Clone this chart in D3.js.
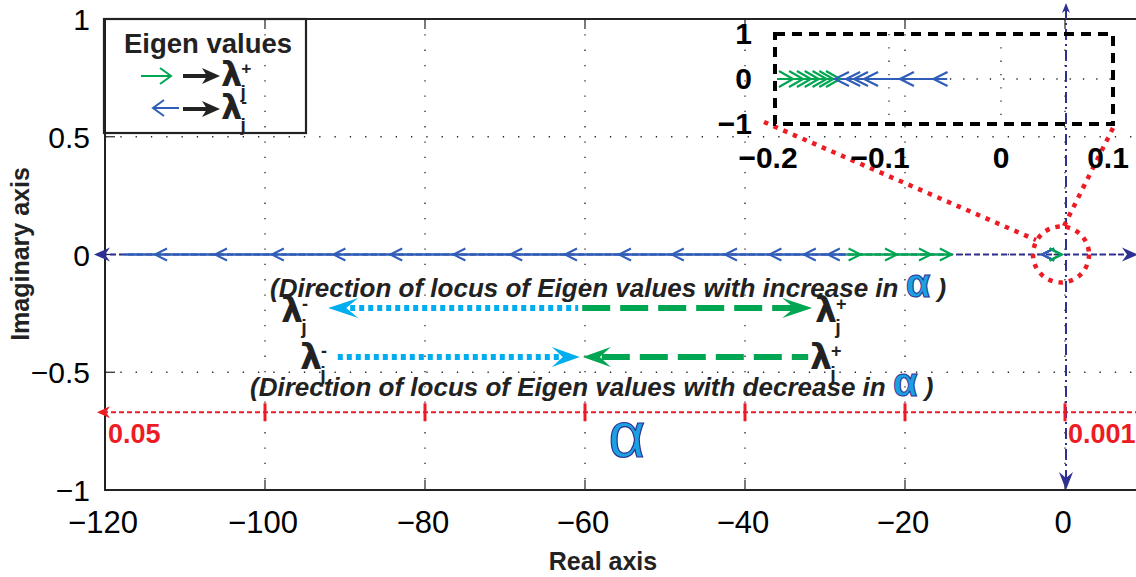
<!DOCTYPE html>
<html>
<head>
<meta charset="utf-8">
<script src="https://cdn.jsdelivr.net/npm/d3@7"></script>
<style>
  body { margin: 0; background: #fff; }
  svg { display: block; font-family: "Liberation Sans", Arial, sans-serif; }
</style>
</head>
<body>
<svg id="chart" width="1136" height="577"></svg>
<script>
// ticks
const xTicks = [-120, -100, -80, -60, -40, -20, 0];
const yTicks = [-1, -0.5, 0, 0.5, 1];

// eigenvalue locus on the real axis (main plot)
const blueRe = [-113, -105.5, -98.4, -90.7, -83.6, -75.7, -68.6, -61.75, -55, -48.4, -41.75, -36.2, -31.9, -28.9];
const blueSpan = [-117.6, -27.3];
const greenRe = [-26.3, -21.75, -17.5, -14.9];
const greenSpan = [-27.3, -14.4];

// zoomed inset near the origin
const insetXTicks = [-0.2, -0.1, 0, 0.1];
const insetYTicks = [-1, 0, 1];
const insetGreenRe = [-0.192, -0.183, -0.176, -0.169, -0.162, -0.156, -0.15];
const insetGreenSpan = [-0.2, -0.148];
const insetBlueRe = [-0.142, -0.132, -0.125, -0.116, -0.084, -0.054];
const insetBlueSpan = [-0.148, -0.048];

// alpha axis drawn in red
const alphaY = -0.67;
const alphaTicks = [-100, -80, -60, -40, -20, 0];
const alphaEnds = [{ x: -120, label: "0.05" }, { x: 0, label: "0.001" }];

// direction arrows (real-axis units / imaginary-axis units)
const rowUpY = -0.227, rowDownY = -0.435;
const rowUp = { cyanTip: -92.1, mid: -60.6, greenTip: -31.6 };
const rowDown = { cyanStart: -90.9, mid: -60.4, greenEnd: -32.1 };

const navy = "#2e3192", blue = "#2f5db8", green = "#00a651", cyan = "#00aeef", red = "#ed1c24";

const svg = d3.select("#chart");
const x = d3.scaleLinear().domain([-120, 0]).range([105, 1065]);
const y = d3.scaleLinear().domain([-1, 1]).range([490, 19]);
const xRight = 1140;

// grid
const grid = svg.append("g").attr("stroke", "#222").attr("stroke-width", 1.3).attr("stroke-dasharray", "1.3,14");
grid.selectAll(".gx").data(xTicks.slice(1)).enter().append("line")
  .attr("x1", d => x(d)).attr("x2", d => x(d)).attr("y1", y(1)).attr("y2", y(-1));
grid.selectAll(".gy").data(yTicks.slice(1, -1)).enter().append("line")
  .attr("x1", x(-120)).attr("x2", xRight).attr("y1", d => y(d)).attr("y2", d => y(d));

// frame + ticks
const frame = svg.append("g").attr("stroke", "#222").attr("stroke-width", 2).attr("fill", "none");
frame.append("path").attr("d", `M${xRight},${y(1)}H${x(-120)}V${y(-1)}H${xRight}`);
xTicks.forEach(t => {
  frame.append("line").attr("x1", x(t)).attr("x2", x(t)).attr("y1", y(-1)).attr("y2", y(-1) - 10).attr("stroke-width", 1.2);
  frame.append("line").attr("x1", x(t)).attr("x2", x(t)).attr("y1", y(1)).attr("y2", y(1) + 10).attr("stroke-width", 1.2);
});
yTicks.forEach(t => {
  frame.append("line").attr("x1", x(-120)).attr("x2", x(-120) + 10).attr("y1", y(t)).attr("y2", y(t)).attr("stroke-width", 1.2);
});

svg.append("g").selectAll("text").data(xTicks).enter().append("text")
  .attr("x", d => x(d) - 2).attr("y", 533).attr("text-anchor", "middle")
  .attr("font-size", 31).text(d => d3.format("d")(d).replace("-", "\u2212"));
svg.append("g").selectAll("text").data(yTicks).enter().append("text")
  .attr("x", 90).attr("y", d => y(d) + 11).attr("text-anchor", "end")
  .attr("font-size", 30).text(d => String(d).replace("-", "\u2212"));

svg.append("text").attr("x", 603).attr("y", 570).attr("text-anchor", "middle")
  .attr("font-size", 25).attr("font-weight", "bold").attr("fill", "#222").text("Real axis");
svg.append("text").attr("transform", "translate(29,254) rotate(-90)").attr("text-anchor", "middle")
  .attr("font-size", 25).attr("font-weight", "bold").attr("fill", "#222").text("Imaginary axis");

// barbed arrow head, pointing in direction ang (radians), tip at (tx,ty)
function head(g, tx, ty, ang, len, half, notch, color) {
  const c = Math.cos(ang), s = Math.sin(ang);
  const p = (a, b) => [tx - a * c - b * s, ty - a * s + b * c];
  const pts = [p(0, 0), p(len, -half), p(len - notch, 0), p(len, half)];
  g.append("path").attr("d", "M" + pts.map(q => q.join(",")).join("L") + "Z").attr("fill", color);
}

// navy coordinate axes through the origin
svg.append("line").attr("x1", x(-120) - 4).attr("x2", 1132).attr("y1", y(0)).attr("y2", y(0))
  .attr("stroke", navy).attr("stroke-width", 2).attr("stroke-dasharray", "6,3");
head(svg, 94, y(0), Math.PI, 16, 7, 5, navy);
head(svg, 1138, y(0), 0, 16, 7, 5, navy);
svg.append("line").attr("x1", x(0) + 1).attr("x2", x(0) + 1).attr("y1", 8).attr("y2", 484)
  .attr("stroke", navy).attr("stroke-width", 2).attr("stroke-dasharray", "11,4,2,4");
head(svg, x(0) + 1, 490, Math.PI / 2, 18, 7, 6, navy);
head(svg, x(0) + 1, 3, -Math.PI / 2, 10, 4, 3, navy);

// locus lines and chevron markers
function chevron(g, cx, cy, dir, w, h, color, sw) {
  g.append("path").attr("d", `M${cx - dir * w},${cy - h}L${cx + dir * w},${cy}L${cx - dir * w},${cy + h}`)
    .attr("fill", "none").attr("stroke", color).attr("stroke-width", sw);
}
const locus = svg.append("g");
locus.append("line").attr("x1", x(blueSpan[0])).attr("x2", x(blueSpan[1])).attr("y1", y(0)).attr("y2", y(0))
  .attr("stroke", blue).attr("stroke-width", 2.6);
locus.append("line").attr("x1", x(greenSpan[0])).attr("x2", x(greenSpan[1])).attr("y1", y(0)).attr("y2", y(0))
  .attr("stroke", green).attr("stroke-width", 2.6);
blueRe.forEach(v => chevron(locus, x(v), y(0), -1, 6, 6, blue, 2));
greenRe.forEach(v => chevron(locus, x(v), y(0), 1, 6, 6, green, 2));
// the same inset values at the main scale
insetBlueRe.filter((v, i) => i % 2 === 0).forEach(v => chevron(locus, x(v) - 16, y(0), -1, 6, 6, blue, 2));
insetGreenRe.filter((v, i) => i % 3 === 0).forEach(v => chevron(locus, x(v) - 8, y(0), 1, 6, 6, green, 2));

// red alpha axis
const al = svg.append("g");
al.append("line").attr("x1", x(-120) - 2).attr("x2", xRight).attr("y1", y(alphaY)).attr("y2", y(alphaY))
  .attr("stroke", red).attr("stroke-width", 2).attr("stroke-dasharray", "5,3");
head(al, 97, y(alphaY), Math.PI, 13, 6, 4, red);
al.selectAll(".t").data(alphaTicks).enter().append("line")
  .attr("x1", d => x(d)).attr("x2", d => x(d)).attr("y1", y(alphaY) - 9).attr("y2", y(alphaY) + 9)
  .attr("stroke", red).attr("stroke-width", 3);
al.selectAll(".l").data(alphaEnds).enter().append("text")
  .attr("x", d => x(d.x) + 3).attr("y", y(alphaY) + 31).attr("font-size", 27).attr("font-weight", "bold")
  .attr("fill", red).text(d => d.label);
svg.append("text").attr("x", 627).attr("y", 457).attr("text-anchor", "middle").attr("font-size", 64)
  .attr("fill", "#1ba1e2").attr("stroke", navy).attr("stroke-width", 1.2).text("\u03b1");

// zoom circle and connectors
const zoomG = svg.append("g").attr("fill", "none").attr("stroke", red).attr("stroke-width", 4.5).attr("stroke-dasharray", "4.5,6");
zoomG.append("circle").attr("cx", x(0) - 4).attr("cy", y(0)).attr("r", 28);
zoomG.append("line").attr("x1", 764).attr("y1", 122).attr("x2", 1036).attr("y2", 240);
zoomG.append("line").attr("x1", 1113).attr("y1", 128).attr("x2", 1064).attr("y2", 226);

// inset
const xi = d3.scaleLinear().domain([-0.2, 0.1]).range([777, 1113]);
const yi = d3.scaleLinear().domain([-1, 1]).range([124, 34]);
const inset = svg.append("g");
const ig = inset.append("g").attr("stroke", "#222").attr("stroke-width", 1.3).attr("stroke-dasharray", "1.3,12");
ig.selectAll(".v").data(insetXTicks.slice(1, -1)).enter().append("line")
  .attr("x1", d => xi(d)).attr("x2", d => xi(d)).attr("y1", yi(1)).attr("y2", yi(-1));
ig.append("line").attr("x1", xi(-0.2)).attr("x2", xi(0.1)).attr("y1", yi(0)).attr("y2", yi(0));
inset.append("rect").attr("x", xi(-0.2) - 2).attr("y", yi(1)).attr("width", xi(0.1) - xi(-0.2) + 2)
  .attr("height", yi(-1) - yi(1)).attr("fill", "none").attr("stroke", "#000").attr("stroke-width", 4)
  .attr("stroke-dasharray", "10,7");
inset.append("line").attr("x1", xi(insetGreenSpan[0])).attr("x2", xi(insetGreenSpan[1])).attr("y1", yi(0)).attr("y2", yi(0))
  .attr("stroke", green).attr("stroke-width", 2.2);
inset.append("line").attr("x1", xi(insetBlueSpan[0])).attr("x2", xi(insetBlueSpan[1])).attr("y1", yi(0)).attr("y2", yi(0))
  .attr("stroke", blue).attr("stroke-width", 2.2);
insetGreenRe.forEach(v => chevron(inset, xi(v), yi(0), 1, 7, 8, green, 2.2));
insetBlueRe.forEach(v => chevron(inset, xi(v), yi(0), -1, 7, 7, blue, 2.2));
inset.selectAll(".xl").data(insetXTicks).enter().append("text")
  .attr("x", d => xi(d) - (d < 0 ? 9 : d > 0 ? 5 : 0)).attr("y", 168).attr("text-anchor", "middle")
  .attr("font-size", 30).attr("font-weight", "bold")
  .text(d => String(d).replace("-", "\u2212"));
inset.selectAll(".yl").data(insetYTicks).enter().append("text")
  .attr("x", 752).attr("y", d => yi(d) + 10).attr("text-anchor", "end").attr("font-size", 30).attr("font-weight", "bold")
  .text(d => String(d).replace("-", "\u2212"));

// lambda symbol with sign superscript and j subscript
function lam(g, lx, ly, sign, fs) {
  const t = g.append("g").attr("font-weight", "bold").attr("fill", "#222");
  t.append("text").attr("x", lx).attr("y", ly).attr("font-size", fs * 1.2)
    .attr("font-family", "'DejaVu Sans', sans-serif").text("\u03bb");
  t.append("text").attr("x", lx + fs * 0.72).attr("y", ly - fs * 0.42).attr("font-size", fs * 0.62).text(sign);
  t.append("text").attr("x", lx + fs * 0.7).attr("y", ly + fs * 0.42).attr("font-size", fs * 0.68).text("j");
}

// legend
const lg = svg.append("g");
lg.append("rect").attr("x", 104).attr("y", 19).attr("width", 202).attr("height", 114)
  .attr("fill", "none").attr("stroke", "#222").attr("stroke-width", 2.2);
lg.append("text").attr("x", 208).attr("y", 53).attr("text-anchor", "middle").attr("font-size", 27.5)
  .attr("font-weight", "bold").attr("fill", "#222").text("Eigen values");
function thinArrow(g, x1, x2, yy, dir, color) {
  g.append("line").attr("x1", x1).attr("x2", x2).attr("y1", yy).attr("y2", yy).attr("stroke", color).attr("stroke-width", 2);
  const tip = dir > 0 ? x2 : x1;
  g.append("path").attr("d", `M${tip - dir * 11},${yy - 8}L${tip},${yy}L${tip - dir * 11},${yy + 8}`)
    .attr("fill", "none").attr("stroke", color).attr("stroke-width", 2);
}
function blackArrow(g, x1, x2, yy) {
  g.append("line").attr("x1", x1).attr("x2", x2 - 10).attr("y1", yy).attr("y2", yy).attr("stroke", "#222").attr("stroke-width", 4);
  head(g, x2, yy, 0, 18, 8, 5, "#222");
}
thinArrow(lg, 141, 171, 76, 1, green);
blackArrow(lg, 183, 220, 76);
lam(lg, 221, 86, "+", 28);
thinArrow(lg, 153, 179, 108, -1, blue);
blackArrow(lg, 183, 220, 109);
lam(lg, 221, 119, "-", 28);

// direction annotations
const an = svg.append("g");
function caption(tx, ty, word) {
  const t = an.append("text").attr("x", tx).attr("y", ty).attr("font-size", 26).attr("font-weight", "bold")
    .attr("font-style", "italic").attr("fill", "#222").attr("font-family", "'Liberation Sans Narrow', 'Liberation Sans', Arial, sans-serif");
  t.append("tspan").text("(Direction of locus of Eigen values with " + word + " in ");
  t.append("tspan").attr("font-size", 40).attr("font-style", "normal").attr("fill", "#1ba1e2")
    .attr("stroke", navy).attr("stroke-width", 1).text("\u03b1");
  t.append("tspan").text(" )");
}
caption(270, 297, "increase");
caption(250, 396, "decrease");

function dashLine(x1, x2, yy, color, dash) {
  an.append("line").attr("x1", x1).attr("x2", x2).attr("y1", yy).attr("y2", yy)
    .attr("stroke", color).attr("stroke-width", 6).attr("stroke-dasharray", dash);
}
const r1 = y(rowUpY), r2 = y(rowDownY);
dashLine(x(rowUp.cyanTip) + 22, x(rowUp.mid) - 2, r1, cyan, "5,4");
dashLine(x(rowUp.mid) + 2, x(rowUp.greenTip) - 18, r1, green, "28,10");
head(an, x(rowUp.cyanTip), r1, Math.PI, 30, 10, 12, cyan);
head(an, x(rowUp.greenTip), r1, 0, 30, 10, 12, green);
lam(an, 281, r1 + 14, "-", 29);
lam(an, 815, r1 + 14, "+", 29);

dashLine(x(rowDown.cyanStart), x(rowDown.mid) - 22, r2, cyan, "5,4");
dashLine(x(rowDown.mid) + 20, x(rowDown.greenEnd), r2, green, "28,10");
head(an, x(rowDown.mid) - 2, r2, 0, 28, 10, 11, cyan);
head(an, x(rowDown.mid) + 1, r2, Math.PI, 28, 10, 11, green);
lam(an, 300, r2 + 12, "-", 29);
lam(an, 810, r2 + 12, "+", 29);
</script>
</body>
</html>
